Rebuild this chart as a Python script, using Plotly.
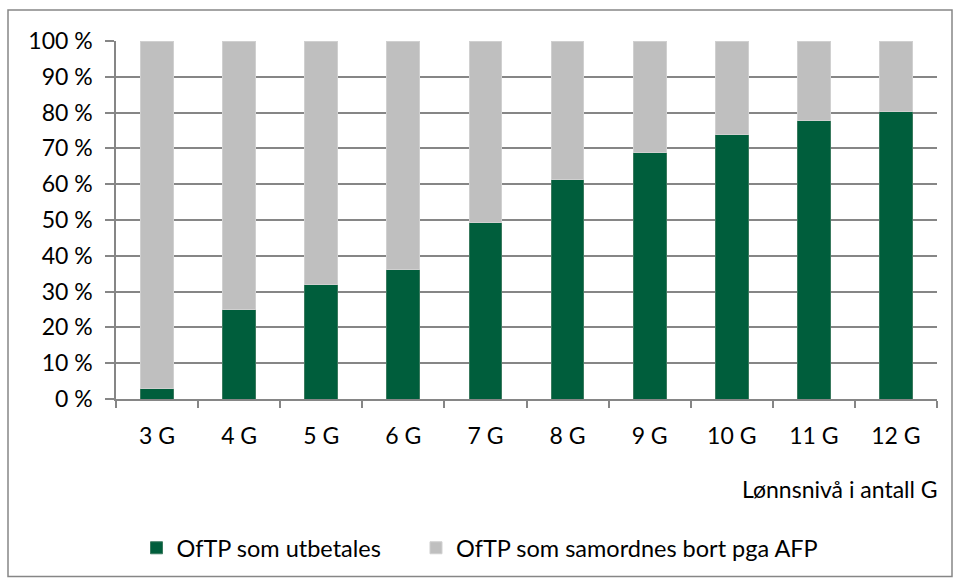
import plotly.graph_objects as go

categories = ["3 G", "4 G", "5 G", "6 G", "7 G", "8 G", "9 G", "10 G", "11 G", "12 G"]
utbetales = [3.0, 24.9, 32.1, 36.2, 49.4, 61.2, 68.8, 74.0, 77.7, 80.4]
samordnes = [100 - v for v in utbetales]
tick_vals = [0, 10, 20, 30, 40, 50, 60, 70, 80, 90, 100]
tick_text = [f"{v} %" for v in tick_vals]
series_names = ["OfTP som utbetales", "OfTP som samordnes bort pga AFP"]

FONT = "Lato, Carlito, Calibri, sans-serif"
GREEN = "#005E3C"
GRAY = "#BFBFBF"
AX = "#868686"
FS = 23
PAD = "\u00a0" * 5

fig = go.Figure()
fig.add_trace(go.Bar(x=categories, y=utbetales, name=series_names[0] + PAD,
                     marker=dict(color=GREEN, line=dict(color="#3A7A5E", width=1))))
fig.add_trace(go.Bar(x=categories, y=samordnes, name=series_names[1],
                     marker=dict(color=GRAY, line=dict(color="#D0D0D0", width=1))))

L, R, T, B = 116, 937, 41, 400
W, H = 957, 580
pw, ph = R - L, B - T

def px(x):
    return (x - L) / pw

def py(y):
    return (B - y) / ph

fig.update_layout(
    width=W, height=H,
    margin=dict(l=L, r=W - R, t=T, b=H - B),
    barmode="stack", bargap=0.6,
    plot_bgcolor="white", paper_bgcolor="white",
    font=dict(family=FONT, size=FS, color="#000000"),
    showlegend=True,
    legend=dict(orientation="h", x=px(480), xanchor="center", y=py(548), yanchor="middle",
                font=dict(size=23.5), traceorder="normal", itemwidth=30),
    xaxis=dict(type="category", showline=True, linecolor=AX, linewidth=1.5,
               ticks="outside", tickson="boundaries", ticklen=7, tickcolor=AX, tickwidth=1.5,
               showgrid=False, tickfont=dict(size=FS), ticklabelstandoff=16),
    yaxis=dict(range=[0, 100], tickvals=tick_vals, ticktext=tick_text,
               showline=True, linecolor=AX, linewidth=1.5,
               ticks="outside", ticklen=9, tickcolor=AX, tickwidth=1.5,
               showgrid=True, gridcolor=AX, gridwidth=1.5, zeroline=False,
               tickfont=dict(size=FS), ticklabelstandoff=8),
    annotations=[dict(text="Lønnsnivå i antall G", xref="paper", yref="paper",
                      x=px(940), y=py(490), xanchor="right", yanchor="middle",
                      showarrow=False, font=dict(size=FS))],
    shapes=[dict(type="rect", xref="paper", yref="paper",
                 x0=px(8), x1=px(952), y0=py(578), y1=py(10),
                 line=dict(color=AX, width=1.5), fillcolor="rgba(0,0,0,0)", layer="below")],
)

fig.write_html("out.html", config={"displayModeBar": False},
               post_script="document.body.style.margin='0';document.body.style.overflow='hidden';")
